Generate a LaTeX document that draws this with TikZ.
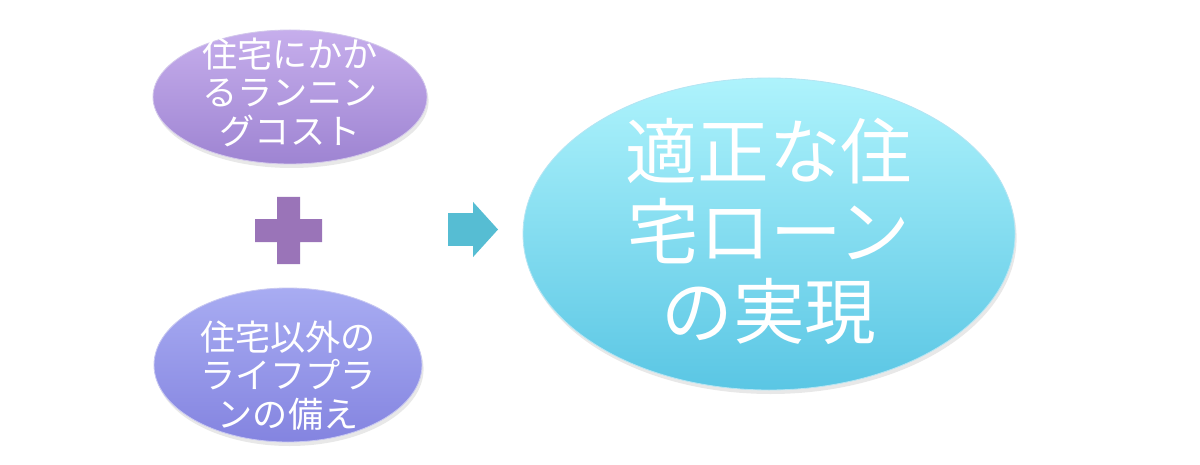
\documentclass[tikz,border=0pt]{standalone}
\usepackage{fontspec}
\newfontfamily\jpfont{Noto Sans CJK JP}
\usetikzlibrary{shapes.geometric,shadows}
\definecolor{lavtop}{HTML}{C6AEEC}
\definecolor{lavbot}{HTML}{9E84D2}
\definecolor{bluetop}{HTML}{A8ACF2}
\definecolor{bluebot}{HTML}{8484E0}
\definecolor{cyantop}{HTML}{AEF3FC}
\definecolor{cyanbot}{HTML}{5AC6E4}
\definecolor{plusfill}{HTML}{9A74B8}
\definecolor{arrowfill}{HTML}{56BDD3}
\tikzset{
  oval/.style={ellipse, inner sep=0pt, text=white, draw=white!55!#1, line width=0.6pt,
    drop shadow={opacity=0.18, shadow xshift=0.04cm, shadow yshift=-0.1cm}},
  smalltext/.style={font=\jpfont\fontsize{25pt}{27.3pt}\selectfont},
  bigtext/.style={font=\jpfont\fontsize{51pt}{57pt}\selectfont},
}
\newcommand{\ovaltext}[2]{\smash{\makebox[0pt]{\raisebox{-#1}{\parbox[c]{10cm}{\centering #2}}}}}
\begin{document}
\begin{tikzpicture}
      \useasboundingbox (0,0) rectangle (30,11.6);
      \draw
        (7.25,9.175) node[oval=lavbot, top color=lavtop, bottom color=lavbot,
          minimum width=6.85cm, minimum height=3.35cm, smalltext] (cost)
          {\ovaltext{0.1cm}{住宅にかか\\るランニン\\グコスト}}
        (7.2,2.475) node[oval=bluebot, top color=bluetop, bottom color=bluebot,
          minimum width=6.7cm, minimum height=3.85cm, smalltext] (plan)
          {\ovaltext{0.48cm}{住宅以外の\\ライフプラ\\ンの備え}}
        (19.225,5.75) node[oval=cyanbot, top color=cyantop, bottom color=cyanbot,
          minimum width=12.3cm, minimum height=7.8cm, bigtext] (loan)
          {\ovaltext{0.15cm}{適正な住\\宅ローン\\の実現}};
      \coordinate (plus) at (7.2125,5.8375);
      \coordinate (arrow) at (11.2,5.8625);
      \begin{scope}[drop shadow={opacity=0.15, shadow xshift=0.03cm, shadow yshift=-0.05cm}]
        \fill[plusfill] (plus) ++(-0.2875,0.8375) -- ++(0.575,0) -- ++(0,-0.55)
          -- ++(0.55,0) -- ++(0,-0.575) -- ++(-0.55,0) -- ++(0,-0.55)
          -- ++(-0.575,0) -- ++(0,0.55) -- ++(-0.55,0) -- ++(0,0.575)
          -- ++(0.55,0) -- cycle;
        \fill[arrowfill] (arrow) ++(0,0.41) -- ++(0.625,0) -- ++(0,0.28)
          -- ++(0.625,-0.69) -- ++(-0.625,-0.69) -- ++(0,0.28)
          -- ++(-0.625,0) -- cycle;
      \end{scope}
    \end{tikzpicture}
\end{document}
